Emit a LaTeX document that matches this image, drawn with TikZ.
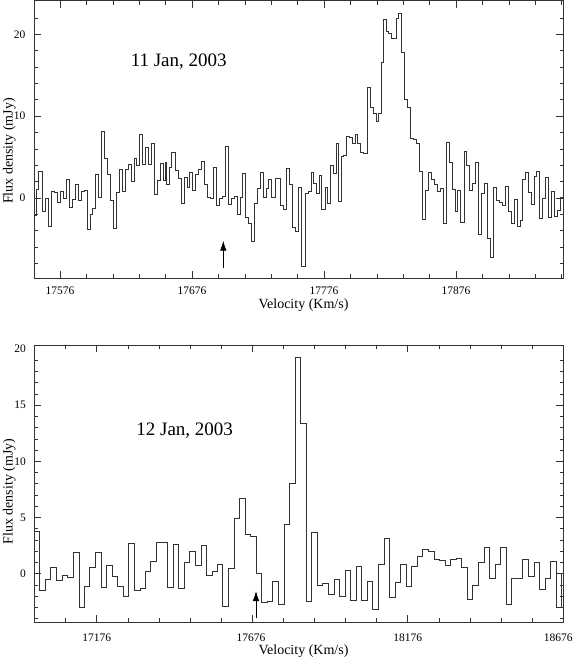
\documentclass[tikz,border=0pt]{standalone}
\usepackage{fontspec}
\setmainfont{Liberation Serif}
\usetikzlibrary{arrows.meta}
\begin{document}
\begin{tikzpicture}[x=1pt,y=-1pt,
  frame/.style={draw=black!80,line width=0.7pt},
  spec/.style={draw=black!80,line width=0.65pt,line join=miter},
  tk/.style={draw=black!80,line width=0.6pt},
  ticklab/.style={font=\fontsize{11.5}{12}\selectfont,inner sep=0pt},
  axlab/.style={font=\fontsize{14}{15}\selectfont,inner sep=0pt},
  datelab/.style={font=\fontsize{19}{20}\selectfont,inner sep=0pt},
  arr/.style={-{Latex[length=10pt,width=6.5pt]},line width=0.8pt,black}]
\useasboundingbox (0,0) rectangle (582,659);

% ================= TOP PANEL =================
\draw[frame] (34,0.8) rectangle (563.3,278);
\foreach \k in {0,...,19} {
  \pgfmathsetmacro\xx{60+26.4*\k}
  \pgfmathsetmacro\len{ifthenelse(mod(\k,5)==0,7,4)}
  \draw[tk] (\xx,278) -- ++(0,-\len);
  \draw[tk] (\xx,0.8) -- ++(0,\len);
}
\foreach \v in {-8,-6,...,22} {
  \pgfmathsetmacro\yy{198-8.185*\v}
  \pgfmathsetmacro\len{ifthenelse(mod(\v,10)==0,7,3.5)}
  \draw[tk] (34,\yy) -- ++(\len,0);
  \draw[tk] (563.3,\yy) -- ++(-\len,0);
}
\node[ticklab] (tx1) at (60,291.2) {17576};
\node[ticklab] (tx2) at (192,291.2) {17676};
\node[ticklab] (tx3) at (324,291.2) {17776};
\node[ticklab] (tx4) at (456,291.2) {17876};
\node[ticklab,anchor=east] (ty1) at (25.5,198) {0};
\node[ticklab,anchor=east] (ty2) at (25.5,116.2) {10};
\node[ticklab,anchor=east] (ty3) at (25.5,34.3) {20};
\node[axlab,anchor=base] (xlab1) at (303.5,308.3) {Velocity (Km/s)};
\node[axlab,rotate=90,anchor=base] (ylab1) at (12.7,151) {Flux density (mJy)};
\node[datelab,anchor=base] (date1) at (178.7,66.7) {11 Jan, 2003};

\draw[spec] (34,215) foreach \x/\y in {36/189, 38.7/171, 42/211, 45.3/198, 48.3/226, 51.3/191, 54.7/192, 57.3/202, 60.3/191, 63.3/198, 66/179, 69.3/207, 72.3/199, 75.3/184, 78.3/200, 81/191, 84.3/190, 87/229, 90/214, 92.7/208, 95.7/174, 98.7/197, 101.7/131, 104.7/158, 107.3/174, 110.3/200, 113.3/228, 116.7/192, 119.3/169, 122.3/191, 125.3/169, 128.3/164, 131.3/181, 134/158, 136.7/165, 139.7/134, 142.7/164, 145.3/147, 148.3/164, 151/143, 154/194, 157/180, 160/163, 163/180, 165.3/162, 166.7/184, 169.3/167, 171.7/152, 175/170, 178.3/178, 181/203, 184/177, 187/187, 189.7/172, 192.7/190, 195.7/174, 198.3/169, 201.3/161, 204.3/184, 207.3/197, 210.7/198, 213.7/167, 216.7/205, 219.3/198, 222.3/196, 225.3/146, 228.3/204, 231/198, 234/196, 237/214, 240/197, 242.7/173, 245.7/217, 248.7/223, 251.7/241, 254.3/203, 257.3/188, 260.3/172, 263.3/197, 266/188, 268.7/179, 271.7/197, 275/178, 280.7/205, 283.3/209, 286.7/168, 289.7/184, 292.7/227, 295.7/231, 298.3/187, 301.7/266, 305.7/193, 308.3/191, 311/172, 313.3/183, 316/193, 319/175, 321.7/209, 325/187, 327.7/203, 330.7/165, 333.3/173, 336/143, 338.3/201, 341/156, 343.3/155, 346.7/136, 349.3/137, 352.3/143, 355/134, 357.7/143, 360.7/152, 363.3/153, 367.5/87, 370.5/107, 373.3/113, 376/121, 378.3/113, 381/62, 383.5/19, 386/31, 388.7/33, 391.5/38, 396/18, 398.3/13, 401.7/52, 404.3/99, 407/107, 410.3/138, 413.3/139, 416.7/143, 419.7/171, 422.7/219, 425.5/190, 428.2/172, 431/179, 434.3/184, 437.3/191, 440/188, 443.3/223, 446/142, 449/162, 452/189, 455/211, 457.7/190, 460.7/222, 464/151, 466.7/165, 469.3/190, 472.3/183, 475.7/162, 478.3/234, 481/193, 484/183, 487.3/238, 490/257, 493.3/187, 496/200, 499/202, 502/205, 505/186, 508.3/211, 511/223, 514/199, 517.3/226, 520/220, 522.7/179, 525.7/172, 528.3/192, 531/204, 534/176, 536.7/171, 539.3/218, 542.7/198, 545.3/177, 548.7/217, 551.7/191, 554.3/216, 557.3/210, 560/197, 563.3/197} { -| (\x,\y) };

\coordinate (a1t) at (223.3,268);
\coordinate (a1h) at (223.3,240.7);
\draw[arr] (a1t) -- (a1h);

% ================= BOTTOM PANEL =================
\draw[frame] (34,345) rectangle (563.3,622.3);
\foreach \k in {1,...,16} {
  \pgfmathsetmacro\xx{34.5+31.1*\k}
  \pgfmathsetmacro\len{ifthenelse(mod(\k,5)==2,7,4)}
  \draw[tk] (\xx,622.3) -- ++(0,-\len);
  \draw[tk] (\xx,345) -- ++(0,\len);
}
\foreach \v in {-4,...,19} {
  \pgfmathsetmacro\yy{573.7-11.24*\v}
  \pgfmathsetmacro\len{ifthenelse(mod(\v,5)==0,7,3.5)}
  \draw[tk] (34,\yy) -- ++(\len,0);
  \draw[tk] (563.3,\yy) -- ++(-\len,0);
}
\node[ticklab] (bx1) at (96.7,637.6) {17176};
\node[ticklab] (bx2) at (251,637.6) {17676};
\node[ticklab] (bx3) at (407.7,637.6) {18176};
\node[ticklab] (bx4) at (558.3,637.6) {18676};
\node[ticklab,anchor=east] (by1) at (26,573.7) {0};
\node[ticklab,anchor=east] (by2) at (26,517.5) {5};
\node[ticklab,anchor=east] (by3) at (26,461.3) {10};
\node[ticklab,anchor=east] (by4) at (26,405.1) {15};
\node[ticklab,anchor=east] (by5) at (26,348.9) {20};
\node[axlab,anchor=base] (xlab2) at (303.5,654) {Velocity (Km/s)};
\node[axlab,rotate=90,anchor=base] (ylab2) at (12.7,491.7) {Flux density (mJy)};
\node[datelab,anchor=base] (date2) at (184.7,435.3) {12 Jan, 2003};

\draw[spec] (34,531) foreach \x/\y in {39.3/590, 45/579.3, 50.7/567.3, 56.3/580, 62/575.3, 67.7/577, 73.3/552, 79/607.3, 84.3/586.7, 89.7/567.3, 95.3/552, 101/587.3, 106.3/565.3, 112/576.7, 117.7/586, 123/596.7, 128.7/543.3, 134.3/590, 140/588.7, 145.3/571.7, 150.7/561, 156.3/542.7, 162/542.3, 167.7/587.3, 173.3/544.7, 178.7/588, 184.3/562, 189.7/551.3, 195.3/565.3, 201/545.7, 206.7/575.3, 212/571, 217/564.3, 222.5/606.3, 228.3/568.2, 234/518, 239.3/498.3, 245/534, 250.7/536.7, 256.3/573.3, 261.7/602.5, 267.3/601.7, 272.7/581, 278.3/604, 284/524, 289.3/483.3, 295/357, 300.7/423.3, 306.7/601.7, 311.7/532.7, 317.3/585.7, 322.7/583.3, 328.3/594, 334/579, 339.3/596, 345/570, 350.7/600, 356/566.7, 361.7/600, 367.3/581.7, 372.7/609.3, 378.3/564.7, 384/538.5, 389/597.3, 395/582.7, 400.7/564.3, 406/586.7, 411.7/566.7, 417.3/556.7, 422.7/549.3, 428.3/551.7, 434/559.3, 439.3/560, 445/565.3, 450.7/559.3, 456/558.7, 461.7/567.7, 467.3/599.3, 472.7/585.7, 478.3/562.7, 484/547.3, 489.3/578.7, 495/564, 500.7/547.3, 506/604.3, 511.7/578.3, 522.7/559.3, 528.3/576, 534/562, 539.3/589.3, 545/578.7, 550.7/561.3, 556/607.3, 561.7/573, 563.3/573} { -| (\x,\y) };

\coordinate (a2t) at (256,618.3);
\coordinate (a2h) at (256,591);
\draw[arr] (a2t) -- (a2h);
\end{tikzpicture}
\end{document}
